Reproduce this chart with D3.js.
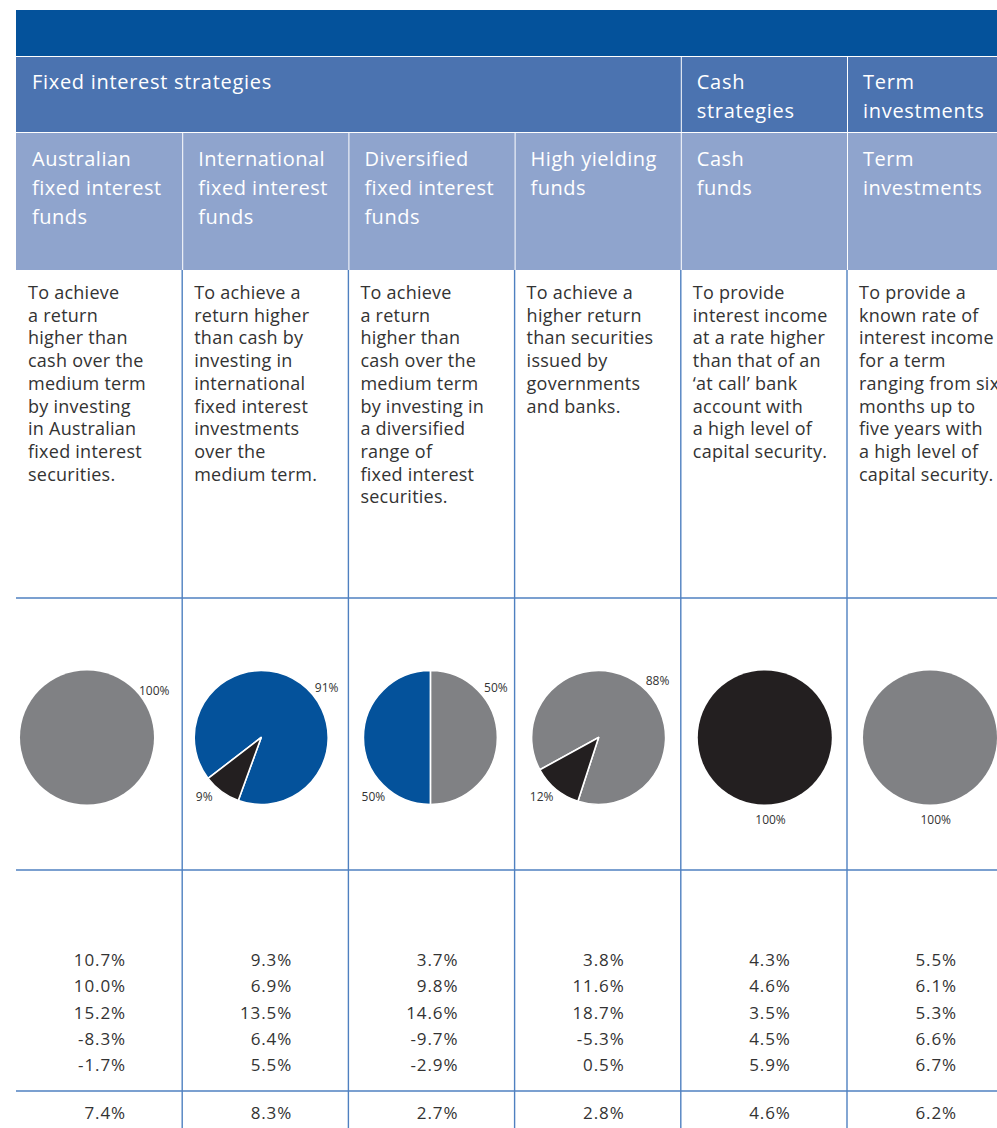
<!DOCTYPE html>
<html>
<head>
<meta charset="utf-8">
<script src="https://cdn.jsdelivr.net/npm/d3@7"></script>
<style>
  html, body { margin: 0; padding: 0; background: #ffffff; }
  svg { display: block; }
</style>
</head>
<body>
<svg id="chart" width="997" height="1128"></svg>
<script>
// ---------------- DATA ----------------
const groups = [
  { lines: ["Fixed interest strategies"], span: [0, 3] },
  { lines: ["Cash", "strategies"], span: [4, 4] },
  { lines: ["Term", "investments"], span: [5, 5] }
];
const categories = [
  ["Australian", "fixed interest", "funds"],
  ["International", "fixed interest", "funds"],
  ["Diversified", "fixed interest", "funds"],
  ["High yielding", "funds"],
  ["Cash", "funds"],
  ["Term", "investments"]
];
const descriptions = [
  ["To achieve", "a return", "higher than", "cash over the", "medium term", "by investing", "in Australian", "fixed interest", "securities."],
  ["To achieve a", "return higher", "than cash by", "investing in", "international", "fixed interest", "investments", "over the", "medium term."],
  ["To achieve", "a return", "higher than", "cash over the", "medium term", "by investing in", "a diversified", "range of", "fixed interest", "securities."],
  ["To achieve a", "higher return", "than securities", "issued by", "governments", "and banks."],
  ["To provide", "interest income", "at a rate higher", "than that of an", "\u2018at call\u2019 bank", "account with", "a high level of", "capital security."],
  ["To provide a", "known rate of", "interest income", "for a term", "ranging from six", "months up to", "five years with", "a high level of", "capital security."]
];
// pie slices: [value, asset class]
const pieValues = [
  [[100, "fixed"]],
  [[91, "intl"], [9, "cash"]],
  [[50, "fixed"], [50, "intl"]],
  [[88, "fixed"], [12, "cash"]],
  [[100, "cash"]],
  [[100, "fixed"]]
];
const returnRows = [
  ["10.7%", "9.3%", "3.7%", "3.8%", "4.3%", "5.5%"],
  ["10.0%", "6.9%", "9.8%", "11.6%", "4.6%", "6.1%"],
  ["15.2%", "13.5%", "14.6%", "18.7%", "3.5%", "5.3%"],
  ["-8.3%", "6.4%", "-9.7%", "-5.3%", "4.5%", "6.6%"],
  ["-1.7%", "5.5%", "-2.9%", "0.5%", "5.9%", "6.7%"]
];
const averageRow = ["7.4%", "8.3%", "2.7%", "2.8%", "4.6%", "6.2%"];

// ---------------- LAYOUT / STYLE ----------------
const colors = {
  top: "#04529b", mid: "#4b73b0", light: "#8fa4cd",
  fixed: "#808184", intl: "#04529b", cash: "#231f20",
  text: "#333333", rule: "#4f80c0"
};
// start angle (degrees, pies drawn counter-clockwise) and label angles per slice
const pieStart = [0, 200, 180, 198, 0, 0];
const pieOffset = [71, 79, 82, 84, 84, 83];
const labelAngles = [[55], [53, 224], [53, 224], [46, 224], [176], [176]];

const svg = d3.select("#chart");
const nCols = categories.length;
const x = d3.scaleLinear().domain([0, nCols]).range([16, 16 + 166.2 * nCols]);
const right = 997;

const rows = { topY: 10, topH: 46, grpY: 57, grpH: 75, catY: 133, catH: 137,
  descY: 270, pieY: 598, retY: 870, avgY: 1091, bottom: 1128 };

const font = "'Open Sans', 'Noto Sans', sans-serif";

// Header backgrounds
svg.append("rect").attr("x", x(0)).attr("y", rows.topY).attr("width", right - x(0)).attr("height", rows.topH).attr("fill", colors.top);

const g1 = svg.append("g");
g1.selectAll("rect").data(groups).join("rect")
  .attr("x", d => x(d.span[0]) + (d.span[0] > 0 ? 1 : 0))
  .attr("y", rows.grpY)
  .attr("width", d => Math.min(right, x(d.span[1] + 1)) - x(d.span[0]) - (d.span[0] > 0 ? 1 : 0))
  .attr("height", rows.grpH)
  .attr("fill", colors.mid);
g1.selectAll("text").data(groups).join("text")
  .attr("x", d => x(d.span[0]) + 16)
  .attr("y", rows.grpY + 32)
  .attr("fill", "#ffffff")
  .style("font-family", font).style("font-size", "20px").style("font-weight", 500).style("letter-spacing", "0.7px")
  .selectAll("tspan").data(d => d.lines).join("tspan")
  .attr("x", function() { return d3.select(this.parentNode).attr("x"); })
  .attr("dy", (d, i) => i === 0 ? 0 : 29)
  .text(d => d);

const g2 = svg.append("g");
g2.selectAll("rect").data(categories).join("rect")
  .attr("x", (d, i) => x(i) + (i > 0 ? 1 : 0))
  .attr("y", rows.catY)
  .attr("width", (d, i) => Math.min(right, x(i + 1)) - x(i) - (i > 0 ? 1 : 0))
  .attr("height", rows.catH)
  .attr("fill", colors.light);
g2.selectAll("text").data(categories).join("text")
  .attr("x", (d, i) => x(i) + 16)
  .attr("y", rows.catY + 33)
  .attr("fill", "#ffffff")
  .style("font-family", font).style("font-size", "20px").style("font-weight", 500).style("letter-spacing", "0.5px")
  .each(function(d, i) {
    d3.select(this).selectAll("tspan").data(d).join("tspan")
      .attr("x", x(i) + 16)
      .attr("dy", (t, j) => j === 0 ? 0 : 29)
      .text(t => t);
  });

// Descriptions
const g3 = svg.append("g");
g3.selectAll("text").data(descriptions).join("text")
  .attr("y", rows.descY + 29)
  .attr("fill", colors.text)
  .style("font-family", font).style("font-size", "18px").style("letter-spacing", "0.25px")
  .each(function(d, i) {
    d3.select(this).selectAll("tspan").data(d).join("tspan")
      .attr("x", x(i) + 12)
      .attr("dy", (t, j) => j === 0 ? 0 : 22.7)
      .text(t => t);
  });

// Rules
const ruleG = svg.append("g").attr("stroke", colors.rule).attr("stroke-width", 1.4);
ruleG.selectAll("line.v").data(d3.range(1, nCols)).join("line")
  .attr("class", "v")
  .attr("x1", i => x(i)).attr("x2", i => x(i))
  .attr("y1", rows.descY).attr("y2", rows.bottom);
ruleG.selectAll("line.h").data([rows.pieY, rows.retY, rows.avgY]).join("line")
  .attr("class", "h")
  .attr("x1", x(0)).attr("x2", right)
  .attr("y1", d => d).attr("y2", d => d);

// Pies
const radius = 67;
const arc = d3.arc().innerRadius(0).outerRadius(radius);
const labelArc = d3.arc().innerRadius(82).outerRadius(82);
const toRad = Math.PI / 180;
pieValues.forEach((slices, i) => {
  const cx = x(i) + pieOffset[i], cy = rows.pieY + 139.5;
  const s = pieStart[i] * toRad;
  const pie = d3.pie().value(d => d[0]).sort(null).startAngle(s).endAngle(s - 2 * Math.PI);
  const arcs = pie(slices);
  const g = svg.append("g").attr("transform", `translate(${cx},${cy})`);
  g.selectAll("path").data(arcs).join("path")
    .attr("d", arc)
    .attr("fill", d => colors[d.data[1]])
    .attr("stroke", arcs.length > 1 ? "#ffffff" : "none")
    .attr("stroke-width", 1.6)
    .attr("stroke-linejoin", "round");
  g.selectAll("text").data(arcs).join("text")
    .attr("transform", (d, j) => {
      const a = labelAngles[i][j] * toRad;
      const c = labelArc.centroid({ startAngle: a, endAngle: a });
      return `translate(${c[0]},${c[1]})`;
    })
    .attr("text-anchor", "middle")
    .attr("dy", "0.36em")
    .attr("fill", colors.text)
    .style("font-family", font).style("font-size", "12px")
    .text(d => d.data[0] + "%");
});

// Returns
const g4 = svg.append("g")
  .style("font-family", font).style("font-size", "17px").style("letter-spacing", "0.9px")
  .attr("fill", colors.text).attr("text-anchor", "end");
const rowY = d3.scaleLinear().domain([0, returnRows.length - 1]).range([966, 1071]);
returnRows.forEach((row, r) => {
  g4.selectAll(null).data(row).join("text")
    .attr("x", (d, i) => x(i) + 110)
    .attr("y", rowY(r))
    .text(d => d);
});
g4.selectAll(null).data(averageRow).join("text")
  .attr("x", (d, i) => x(i) + 110)
  .attr("y", 1119)
  .text(d => d);
</script>
</body>
</html>
